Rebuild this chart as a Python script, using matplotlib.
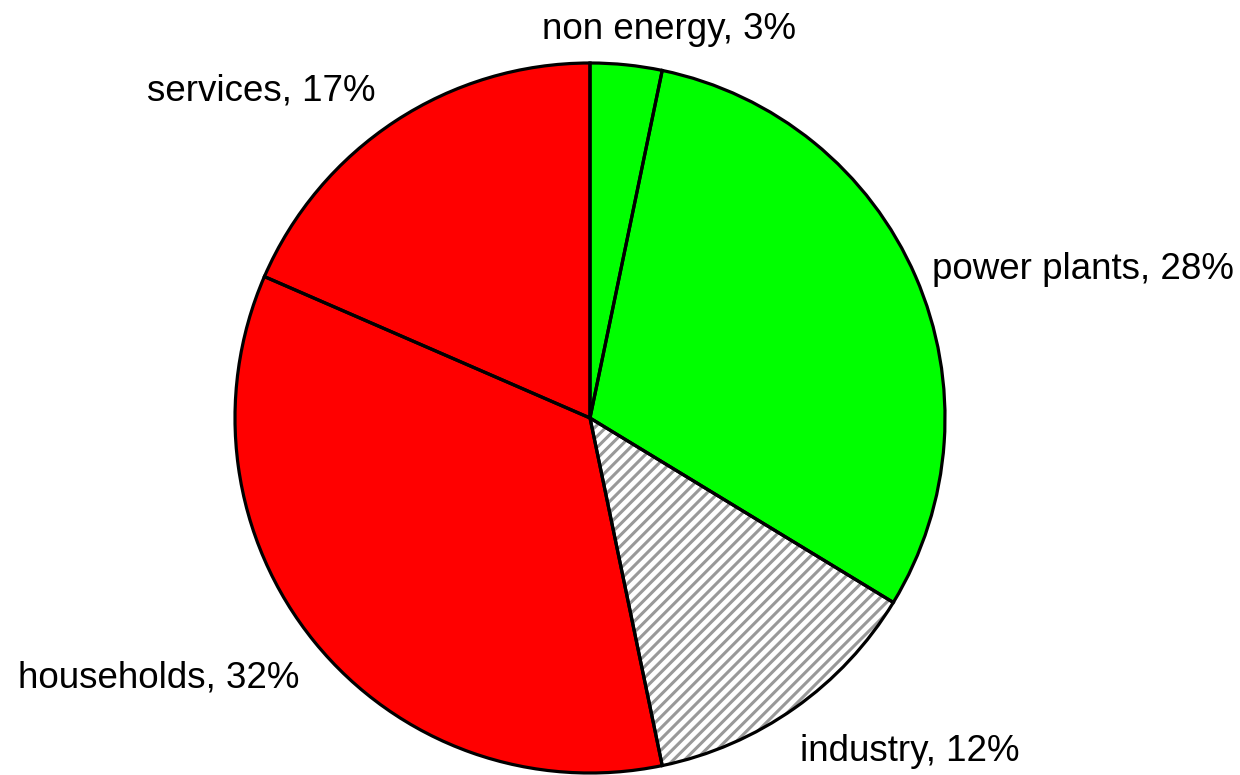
import numpy as np
import matplotlib.pyplot as plt

plt.rcParams['font.family'] = ['Liberation Sans', 'DejaVu Sans']
plt.rcParams['hatch.linewidth'] = 2.2

sectors = ['non energy', 'power plants', 'industry', 'households', 'services']
shares = [3, 28, 12, 32, 17]
colors = ['#00ff00', '#00ff00', 'white', '#ff0000', '#ff0000']
hatches = [None, None, '///', None, None]

labels = ['%s, %d%%' % (s, v) for s, v in zip(sectors, shares)]

fig = plt.figure(figsize=(12.4, 7.75), dpi=100)
# axes square, pie centre at about (590, 419) px, radius ~355 px
ax = fig.add_axes([235 / 1240, 2 / 775, 710 / 1240, 710 / 775])

# filled wedges (hatch drawn in gray, so edges gray too)
wedges, texts = ax.pie(shares, labels=labels, colors=colors, startangle=90,
                       counterclock=False, labeldistance=1.1,
                       wedgeprops=dict(edgecolor='#999999', linewidth=0),
                       textprops=dict(fontsize=26.5, color='black'))
for w, h in zip(wedges, hatches):
    if h:
        w.set_hatch(h)

# black outlines on top
ax.pie(shares, startangle=90, counterclock=False,
       wedgeprops=dict(fill=False, edgecolor='black', linewidth=2.3))

# small label tweaks
texts[0].set_ha('center')
x, y = texts[0].get_position()
texts[0].set_position((x + 0.11, y))
x, y = texts[1].get_position()
texts[1].set_position((x * 1.05 / 1.1, y * 1.05 / 1.1))
x, y = texts[2].get_position()
texts[2].set_position((x - 0.042, y - 0.042))
x, y = texts[3].get_position()
texts[3].set_position((x + 0.035, y - 0.037))
for t in texts:
    t.set_clip_on(False)

ax.set_xlim(-1, 1)
ax.set_ylim(-1, 1)
ax.set_aspect('equal')
ax.axis('off')

fig.savefig('out.png', dpi=100)
